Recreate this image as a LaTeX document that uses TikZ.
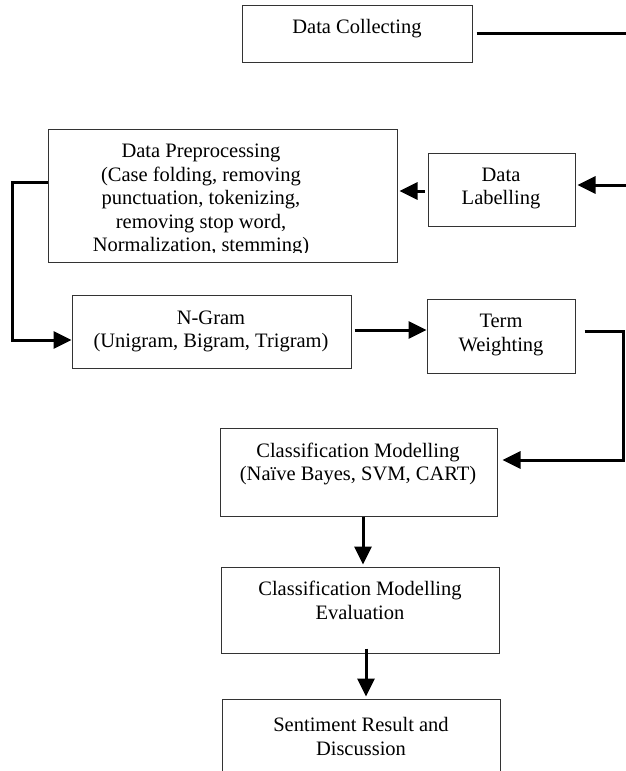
\documentclass[tikz,border=0pt]{standalone}
\usepackage{fontspec}
\setmainfont{Liberation Serif}
\usetikzlibrary{arrows.meta,calc}
\tikzset{
  box/.style={draw=black!80, line width=1pt, inner sep=0pt, rectangle},
  lbl/.style={align=center, inner sep=0pt, font=\fontsize{20.5}{23.5}\selectfont},
  conn/.style={line width=3pt},
  arr/.style={conn, -{Triangle[length=18pt,width=17pt]}},
}
\begin{document}
\begin{tikzpicture}[x=1pt,y=-1pt]
\clip (0,0) rectangle (626,771);
\fill[white] (0,0) rectangle (626,771);
% boxes
\node[box, minimum width=230pt, minimum height=57pt] (dc) at (357,33.5) {};
\node[box, minimum width=349pt, minimum height=133pt] (pre) at (222.5,195.5) {};
\node[box, minimum width=147pt, minimum height=73.5pt] (lab) at (501.5,189.75) {};
\node[box, minimum width=279pt, minimum height=73pt] (ng) at (211.5,331.5) {};
\node[box, minimum width=148pt, minimum height=74pt] (tw) at (501,336) {};
\node[box, minimum width=277pt, minimum height=88pt] (c1) at (358.5,472) {};
\node[box, minimum width=278pt, minimum height=86pt] (c2) at (360,610) {};
\node[box, minimum width=278pt, minimum height=82pt] (sr) at (361,740) {};
% texts
\node[lbl] (tdc) at (357,29) {Data Collecting};
\begin{scope}
  \clip (pre.north west) rectangle ($(pre.south east)+(0,-10)$);
  \node[lbl] (tpre) at (201,200) {Data Preprocessing\\(Case folding, removing\\punctuation, tokenizing,\\removing stop word,\\Normalization, stemming)};
\end{scope}
\node[lbl] (tlab) at (501,188.5) {Data\\Labelling};
\node[lbl] (tng) at (211,331.5) {N-Gram\\(Unigram, Bigram, Trigram)};
\node[lbl] (ttw) at (501,335) {Term\\Weighting};
\node[lbl] (tc1) at (358,464) {Classification Modelling\\(Naïve Bayes, SVM, CART)};
\node[lbl] (tc2) at (360,600.5) {Classification Modelling\\Evaluation};
\node[lbl] (tsr) at (361,736.5) {Sentiment Result and\\Discussion};
% free ends and bends
\coordinate (e1) at (628,33);
\coordinate (e2) at (628,185);
\coordinate (lc) at (12,340);
\coordinate (rc) at (623,460);
% connectors
\draw[conn] ($(dc.east)+(4,-0.5)$) -- (e1);
\draw[arr] (e2) -- ($(e2 -| lab.east)+(2,0)$);
\draw[arr] ($(lab.west)+(-3,1.25)$) -- ($(lab.west -| pre.east)+(2,1.25)$);
\draw[arr] ($(pre.west)+(0,-13.5)$) -| (lc) -- (lc -| ng.west);
\draw[arr] ($(ng.east)+(3,-1.5)$) -- ($(ng.east -| tw.west)+(0,-1.5)$);
\draw[arr] ($(tw.east)+(9,-5)$) -| (rc) -- ($(rc -| c1.east)+(5,0)$);
\draw[arr] ($(c1.south)+(4.5,0)$) -- ($(c1.south |- c2.north)+(4.5,-2)$);
\draw[arr] ($(c2.south)+(6,-5)$) -- ($(c2.south |- sr.north)+(6,-2)$);
\end{tikzpicture}
\end{document}
